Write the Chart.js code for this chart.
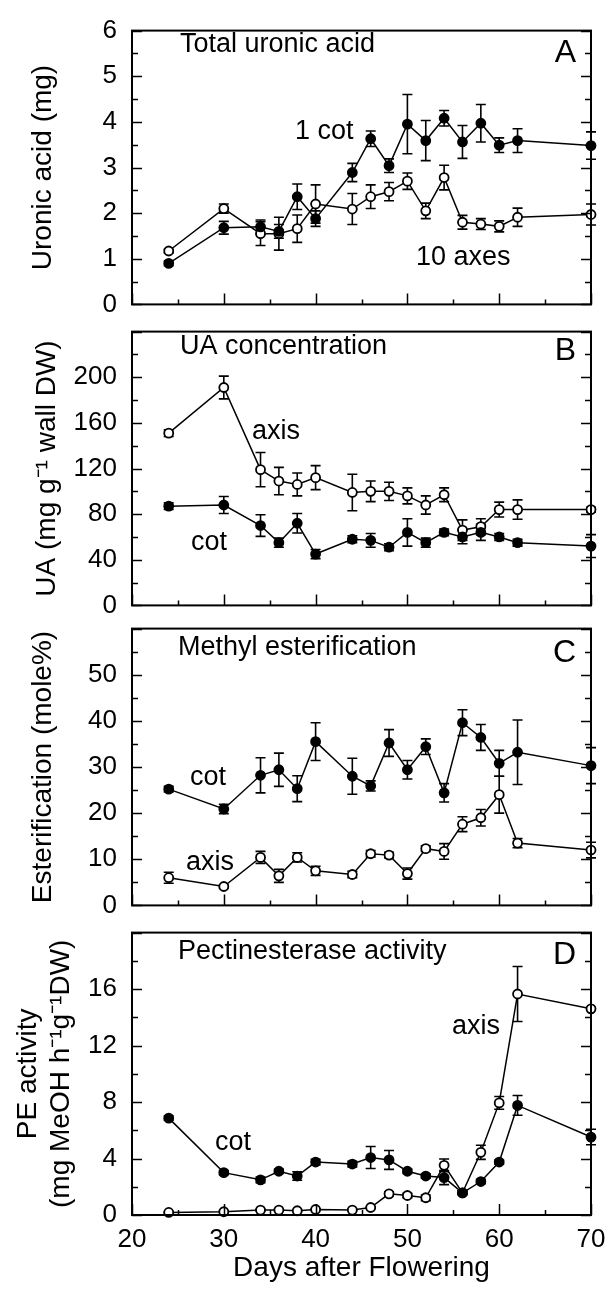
<!DOCTYPE html>
<html>
<head>
<meta charset="utf-8">
<script src="https://cdn.jsdelivr.net/npm/chart.js@4"></script>
<style>
  body { margin: 0; background: #fff; }
  #wrap { position: relative; width: 615px; height: 1289px; }
  canvas { position: absolute; left: 0; }
</style>
</head>
<body>
<div id="wrap">
  <canvas id="panelA" width="615" height="335" style="top:0px"></canvas>
  <canvas id="panelB" width="615" height="335" style="top:301px"></canvas>
  <canvas id="panelC" width="615" height="338" style="top:598px"></canvas>
  <canvas id="panelD" width="615" height="387" style="top:902px"></canvas>
</div>
<script>
// days after flowering (shared by all panels)
const days = [24, 30, 34, 36, 38, 40, 44, 46, 48, 50, 52, 54, 56, 58, 60, 62, 70];

// A: total uronic acid (mg)
const cotUA = [0.90, 1.68, 1.70, 1.60, 2.36, 1.88, 2.89, 3.63, 3.04, 3.95, 3.59, 4.08, 3.56, 3.97, 3.49, 3.59, 3.48];
const cotUAErr = [0.05, 0.14, 0.15, 0.15, 0.28, 0.17, 0.20, 0.17, 0.15, 0.65, 0.44, 0.17, 0.36, 0.41, 0.16, 0.26, 0.30];
const axisUA = [1.17, 2.10, 1.55, 1.55, 1.66, 2.20, 2.09, 2.36, 2.47, 2.70, 2.05, 2.78, 1.80, 1.76, 1.71, 1.91, 1.97];
const axisUAErr = [0.04, 0.10, 0.26, 0.36, 0.30, 0.42, 0.34, 0.26, 0.20, 0.18, 0.17, 0.27, 0.15, 0.12, 0.12, 0.20, 0.23];

// B: UA concentration (mg/g wall DW)
const cotConc = [87, 88, 70, 55, 72, 45, 58, 57, 51, 64, 55, 64, 60, 64, 60, 55, 52];
const cotConcErr = [3, 7.5, 9.5, 4, 8.5, 4, 3, 6, 3, 12, 4, 3, 6, 7, 3, 3, 10];
const axisConc = [151, 191, 119, 109, 106, 112, 99, 100, 100, 96, 88, 97, 66, 69, 84, 84, 84];
const axisConcErr = [3, 10, 15, 12, 10, 10.5, 16, 9, 8, 7, 8, 6, 9, 7, 6.5, 8.5, 2];

// C: methyl esterification (mole%)
const cotEst = [25.2, 20.9, 28.2, 29.4, 25.3, 35.5, 28.0, 25.9, 35.2, 29.4, 34.4, 24.4, 39.6, 36.4, 30.8, 33.2, 30.3];
const cotEstErr = [0.6, 1.0, 3.8, 3.6, 2.8, 4.1, 3.9, 1.1, 2.9, 2.0, 1.7, 2.0, 2.8, 2.8, 2.8, 7.0, 3.9];
const axisEst = [6.0, 4.1, 10.4, 6.4, 10.4, 7.5, 6.7, 11.2, 10.9, 6.9, 12.3, 11.7, 17.6, 19.0, 24.0, 13.5, 12.0];
const axisEstErr = [1.2, 0.3, 1.3, 1.4, 1.0, 1.0, 0.7, 0.7, 0.6, 1.2, 0.6, 1.7, 1.6, 1.8, 4.0, 1.0, 1.7];

// D: pectinesterase activity
const cotPE = [6.86, 3.00, 2.49, 3.10, 2.76, 3.75, 3.61, 4.07, 3.90, 3.10, 2.76, 2.65, 1.57, 2.37, 3.75, 7.76, 5.52];
const cotPEErr = [0.15, 0.15, 0.2, 0.15, 0.3, 0.2, 0.2, 0.78, 0.67, 0.15, 0.15, 0.5, 0.1, 0.15, 0.15, 0.7, 0.55];
const axisPE = [0.18, 0.23, 0.35, 0.35, 0.30, 0.39, 0.35, 0.53, 1.50, 1.38, 1.22, 3.52, 1.57, 4.44, 7.94, 15.65, 14.60];
const axisPEErr = [0.05, 0.05, 0.05, 0.05, 0.05, 0.05, 0.05, 0.05, 0.15, 0.15, 0.2, 0.45, 0.15, 0.5, 0.45, 1.95, 0.1];

// axis ranges: [min, max, major step, minor step]
const xRange = [20, 70, 10, 5];
const yRangeA = [0, 6, 1, 0.5];
const yRangeB = [0, 240, 40, 20];
const yRangeC = [0, 60, 10, 5];
const yRangeD = [0, 20, 4, 2];

const FONT = "'Liberation Sans', Arial, Helvetica, sans-serif";

// frame, inward ticks, error bars and in-plot labels
const framePlugin = {
  id: "frame",
  beforeDatasetsDraw(chart) {
    const ctx = chart.ctx;
    const xs = chart.scales.x, ys = chart.scales.y;
    ctx.save();
    ctx.strokeStyle = "#000";
    ctx.lineWidth = 1.6;
    chart.data.datasets.forEach((ds) => {
      ds.errors.forEach((e, i) => {
        const v = ds.data[i].y;
        const x = xs.getPixelForValue(ds.data[i].x);
        const y1 = ys.getPixelForValue(v + e);
        const y2 = ys.getPixelForValue(v - e);
        ctx.beginPath();
        ctx.moveTo(x, y1); ctx.lineTo(x, y2);
        ctx.moveTo(x - 5, y1); ctx.lineTo(x + 5, y1);
        ctx.moveTo(x - 5, y2); ctx.lineTo(x + 5, y2);
        ctx.stroke();
      });
    });
    ctx.restore();
  },
  afterDraw(chart, args, opts) {
    const ctx = chart.ctx;
    const a = chart.chartArea;
    const xs = chart.scales.x, ys = chart.scales.y;
    const yr = opts.yRange;
    ctx.save();
    ctx.strokeStyle = "#000";
    ctx.lineWidth = 1.5;
    ctx.beginPath();
    for (let v = yr[0]; v <= yr[1] + 1e-9; v += yr[3]) {
      const y = Math.round(ys.getPixelForValue(v)) + 0.5;
      const major = Math.abs(v / yr[2] - Math.round(v / yr[2])) < 1e-6;
      const len = major ? 10 : 6;
      ctx.moveTo(a.left, y); ctx.lineTo(a.left + len, y);
      ctx.moveTo(a.right, y); ctx.lineTo(a.right - len, y);
    }
    for (let d = xRange[0]; d <= xRange[1]; d += xRange[3]) {
      const x = Math.round(xs.getPixelForValue(d)) + 0.5;
      const len = d % xRange[2] === 0 ? 11 : 5;
      ctx.moveTo(x, a.bottom); ctx.lineTo(x, a.bottom - len);
    }
    ctx.stroke();
    ctx.lineWidth = 2;
    ctx.strokeRect(a.left, a.top, a.right - a.left, a.bottom - a.top);

    ctx.fillStyle = "#000";
    ctx.textBaseline = "middle";
    opts.texts.forEach((t) => {
      ctx.font = (t.size || 27) + "px " + FONT;
      ctx.textAlign = t.align || "left";
      ctx.fillText(t.text, t.x, t.y - opts.top);
    });
    ctx.restore();
  },
};

function makePanel(id, top, plotTop, plotBottom, yRange, yTitle, titlePad, series, texts, showX) {
  const canvas = document.getElementById(id);
  const h = canvas.height;
  const tickFont = { family: FONT, size: 26 };
  const titleFont = { family: FONT, size: 28 };
  return new Chart(canvas.getContext("2d"), {
    type: "line",
    data: {
      datasets: series.map((s) => ({
        data: days.map((d, i) => ({ x: d, y: s.values[i] })),
        errors: s.errors,
        borderColor: "#000",
        borderWidth: 1.5,
        pointRadius: 4.5,
        pointBackgroundColor: s.filled ? "#000" : "#fff",
        pointBorderColor: "#000",
        pointBorderWidth: 1.8,
        tension: 0,
        clip: false,
      })),
    },
    options: {
      responsive: false,
      animation: false,
      layout: {
        padding: { left: 0, right: 24, top: plotTop - top, bottom: showX ? 0 : h - (plotBottom - top) },
      },
      plugins: {
        legend: { display: false },
        tooltip: { enabled: false },
        frame: { texts: texts, top: top, yRange: yRange },
      },
      scales: {
        x: {
          type: "linear",
          min: xRange[0],
          max: xRange[1],
          display: showX,
          grid: { display: false, drawTicks: false },
          border: { display: false },
          ticks: { stepSize: xRange[2], font: tickFont, color: "#000", padding: 9 },
          title: {
            display: true,
            text: "Days after Flowering",
            font: titleFont,
            color: "#000",
            padding: { top: 0, bottom: 4 },
          },
          afterFit: (s) => { s.height = showX ? 74 : 0; },
        },
        y: {
          min: yRange[0],
          max: yRange[1],
          grid: { display: false, drawTicks: false },
          border: { display: false },
          ticks: {
            stepSize: yRange[2],
            font: tickFont,
            color: "#000",
            padding: 15,
            callback: (v) => (v === yRange[1] && id !== "panelA" ? "" : v),
          },
          title: {
            display: true,
            text: yTitle,
            font: titleFont,
            color: "#000",
            padding: { top: titlePad, bottom: 0 },
          },
          afterFit: (s) => { s.width = 132; },
        },
      },
    },
    plugins: [framePlugin],
  });
}

window.addEventListener("DOMContentLoaded", () => {
  makePanel("panelA", 0, 24, 313, yRangeA, "Uronic acid (mg)", 26, [
    { values: cotUA, errors: cotUAErr, filled: true },
    { values: axisUA, errors: axisUAErr, filled: false },
  ], [
    { text: "Total uronic acid", x: 180, y: 45 },
    { text: "A", x: 576, y: 53, size: 32, align: "right" },
    { text: "1 cot", x: 295, y: 132 },
    { text: "10 axes", x: 416, y: 258 },
  ], false);

  makePanel("panelB", 301, 325, 614, yRangeB, "UA (mg g\u207B\u00B9 wall DW)", 30, [
    { values: cotConc, errors: cotConcErr, filled: true },
    { values: axisConc, errors: axisConcErr, filled: false },
  ], [
    { text: "UA concentration", x: 180, y: 347 },
    { text: "B", x: 576, y: 351, size: 32, align: "right" },
    { text: "axis", x: 252, y: 432 },
    { text: "cot", x: 191, y: 543 },
  ], false);

  makePanel("panelC", 598, 622, 914, yRangeC, "Esterification (mole%)", 26, [
    { values: cotEst, errors: cotEstErr, filled: true },
    { values: axisEst, errors: axisEstErr, filled: false },
  ], [
    { text: "Methyl esterification", x: 178, y: 648 },
    { text: "C", x: 576, y: 653, size: 32, align: "right" },
    { text: "cot", x: 190, y: 778 },
    { text: "axis", x: 186, y: 863 },
  ], false);

  makePanel("panelD", 902, 926, 1215, yRangeD, ["PE activity", "(mg MeOH h\u207B\u00B9g\u207B\u00B9DW)"], 11, [
    { values: cotPE, errors: cotPEErr, filled: true },
    { values: axisPE, errors: axisPEErr, filled: false },
  ], [
    { text: "Pectinesterase activity", x: 178, y: 952 },
    { text: "D", x: 576, y: 955, size: 32, align: "right" },
    { text: "axis", x: 452, y: 1027 },
    { text: "cot", x: 215, y: 1143 },
  ], true);
});
</script>
</body>
</html>
